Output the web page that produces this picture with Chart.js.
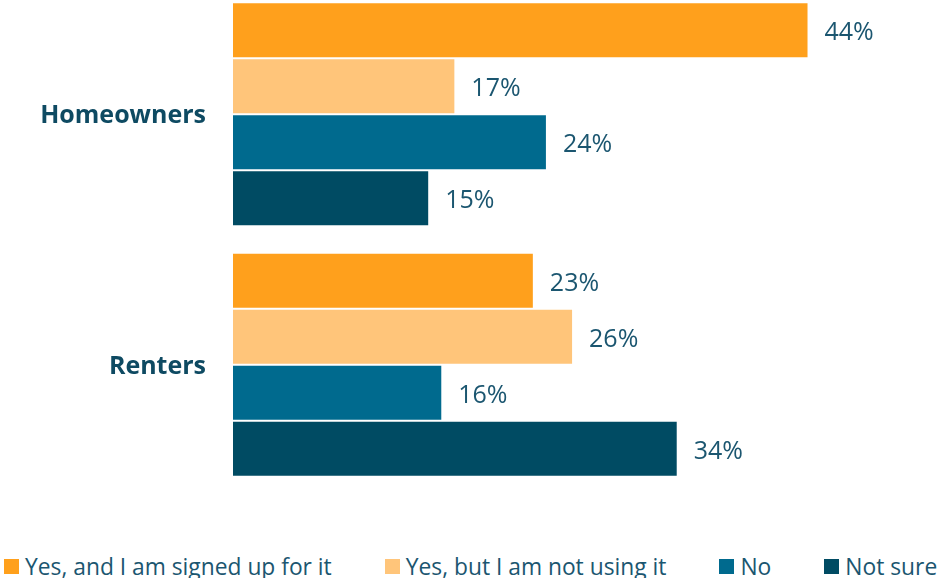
<!DOCTYPE html>
<html>
<head>
    <title>Homeowners vs Renters</title>
    <script src="https://cdn.jsdelivr.net/npm/chart.js"></script>
    <style>
        body {
            margin: 0;
            background-color: #ffffff;
            font-family: 'Open Sans', sans-serif;
            overflow: hidden;
        }
        #chart {
            position: absolute;
            left: 0;
            top: -11px;
        }
        #legend {
            position: absolute;
            left: 4px;
            top: 551px;
            display: flex;
            gap: 53px;
            font-size: 22.8px;
            color: #1B5670;
            white-space: nowrap;
        }
        .item {
            display: flex;
            align-items: center;
            gap: 6px;
        }
        .swatch {
            width: 15px;
            height: 15px;
        }
    </style>
</head>
<body>
    <canvas id="chart" width="939" height="501"></canvas>
    <div id="legend"></div>
    <script>
        const groups = ['Homeowners', 'Renters'];
        const seriesNames = ['Yes, and I am signed up for it', 'Yes, but I am not using it', 'No', 'Not sure'];
        const signedUp = [44, 23];
        const notUsing = [17, 26];
        const noAnswer = [24, 16];
        const notSure = [15, 34];
        const colors = ['#FFA01C', '#FFC57A', '#006A8E', '#004B63'];

        const textColor = '#1B5670';

        // group names left of the axis, value labels right of each bar
        const barLabels = {
            id: 'barLabels',
            afterDatasetsDraw(chart) {
                const ctx = chart.ctx;
                const yScale = chart.scales.y;
                ctx.save();
                ctx.textBaseline = 'middle';

                ctx.font = 'bold 25px "Open Sans"';
                ctx.fillStyle = '#0E4A62';
                ctx.textAlign = 'right';
                chart.data.labels.forEach((name, i) => {
                    ctx.fillText(name, yScale.right - 27, yScale.getPixelForValue(i) + 2);
                });

                ctx.font = '25px "Open Sans"';
                ctx.fillStyle = textColor;
                ctx.textAlign = 'left';
                chart.data.datasets.forEach((ds, i) => {
                    chart.getDatasetMeta(i).data.forEach((bar, j) => {
                        ctx.fillText(ds.data[j] + '%', bar.x + 16, bar.y + 3);
                    });
                });
                ctx.restore();
            }
        };

        const allSeries = [signedUp, notUsing, noAnswer, notSure];

        new Chart(document.getElementById('chart'), {
            type: 'bar',
            data: {
                labels: groups,
                datasets: allSeries.map((vals, i) => ({
                    label: seriesNames[i],
                    data: vals,
                    backgroundColor: colors[i],
                    borderColor: 'rgba(255,255,255,0.5)',
                    borderWidth: 1,
                    categoryPercentage: 0.895,
                    barPercentage: 1
                }))
            },
            options: {
                indexAxis: 'y',
                responsive: false,
                animation: false,
                layout: {
                    padding: { left: 0, right: 52, top: 0, bottom: 0 }
                },
                plugins: {
                    legend: { display: false },
                    tooltip: { enabled: false }
                },
                scales: {
                    x: {
                        display: false,
                        min: 0,
                        max: 50
                    },
                    y: {
                        grid: { display: false },
                        border: { display: false },
                        ticks: { display: false },
                        afterFit(scale) {
                            scale.width = 233;
                        }
                    }
                }
            },
            plugins: [barLabels]
        });

        // legend built from the same series names and colours
        const legend = document.getElementById('legend');
        seriesNames.forEach((name, i) => {
            const item = document.createElement('div');
            item.className = 'item';
            item.innerHTML = `<span class="swatch" style="background:${colors[i]}"></span><span>${name}</span>`;
            legend.appendChild(item);
        });
    </script>
</body>
</html>
